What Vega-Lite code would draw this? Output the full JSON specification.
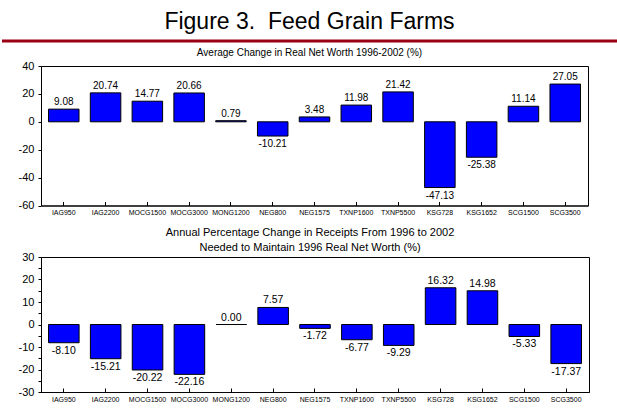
{
  "$schema": "https://vega.github.io/schema/vega-lite/v6.json",
  "padding": {"top": 10, "left": 0, "right": 0, "bottom": 0},
  "background": "white",
  "spacing": 4,
  "config": {
    "font": "Liberation Sans",
    "view": {"stroke": "black", "strokeWidth": 1},
    "title": {"fontWeight": "normal", "color": "black", "font": "Liberation Sans"},
    "axis": {"domainColor": "black", "tickColor": "black", "labelColor": "black", "grid": false, "title": null, "labelFont": "Liberation Sans", "labelOverlap": false, "labelBound": false},
    "axisY": {"labelOverlap": false, "labelFlush": false},
    "axisQuantitative": {"labelOverlap": false},
    "locale": {"number": {"decimal": ".", "thousands": ",", "grouping": [3], "currency": ["$", ""], "minus": "-"}}
  },
  "datasets": {
    "farms": [
      {"farm": "IAG950", "nw": 9.08, "rc": -8.10},
      {"farm": "IAG2200", "nw": 20.74, "rc": -15.21},
      {"farm": "MOCG1500", "nw": 14.77, "rc": -20.22},
      {"farm": "MOCG3000", "nw": 20.66, "rc": -22.16},
      {"farm": "MONG1200", "nw": 0.79, "rc": 0.00},
      {"farm": "NEG800", "nw": -10.21, "rc": 7.57},
      {"farm": "NEG1575", "nw": 3.48, "rc": -1.72},
      {"farm": "TXNP1600", "nw": 11.98, "rc": -6.77},
      {"farm": "TXNP5500", "nw": 21.42, "rc": -9.29},
      {"farm": "KSG728", "nw": -47.13, "rc": 16.32},
      {"farm": "KSG1652", "nw": -25.38, "rc": 14.98},
      {"farm": "SCG1500", "nw": 11.14, "rc": -5.33},
      {"farm": "SCG3500", "nw": 27.05, "rc": -17.37}
    ],
    "header": [{"from": 0, "to": 617, "level": 0}]
  },
  "vconcat": [
    {
      "data": {"name": "header"},
      "width": 547,
      "height": 1,
      "view": {"stroke": null},
      "title": {"text": "Figure 3.\u00a0 Feed Grain Farms", "fontSize": 23, "offset": 6, "dx": -5},
      "mark": {"type": "rule", "color": "#990014", "strokeWidth": 3},
      "encoding": {
        "x": {"field": "from", "type": "quantitative", "scale": {"domain": [39, 586], "nice": false, "zero": false}, "axis": null},
        "x2": {"field": "to"},
        "y": {"field": "level", "type": "quantitative", "scale": {"domain": [0, 1]}, "axis": null}
      }
    },
    {
      "data": {"name": "farms"},
      "width": 547,
      "height": 139.5,
      "title": {"text": "Average Change in Real Net Worth 1996-2002 (%)", "fontSize": 10, "offset": 2.5, "dx": -5},
      "encoding": {
        "x": {"field": "farm", "type": "nominal", "sort": null,
              "scale": {"paddingInner": 0.27, "paddingOuter": 0.18},
              "axis": {"labelAngle": 0, "labelFontSize": 7, "tickSize": -4, "labelPadding": 7, "minExtent": 16, "maxExtent": 16}},
        "y": {"field": "nw", "type": "quantitative", "scale": {"domain": [-60, 40], "nice": false},
              "axis": {"values": [-60, -40, -20, 0, 20, 40], "labelOverlap": false, "tickSize": 3, "labelFontSize": 11, "labelPadding": 4, "minExtent": 39, "maxExtent": 39}}
      },
      "layer": [
        {"mark": {"type": "bar", "color": "#0000FF", "stroke": "black", "strokeWidth": 1}},
        {"mark": {"type": "rule", "color": "black"}, "encoding": {"y": {"datum": 0}}},
        {
          "transform": [{"filter": "datum.nw >= 0"}],
          "mark": {"type": "text", "baseline": "bottom", "dy": -2, "fontSize": 10, "color": "black"},
          "encoding": {"text": {"field": "nw", "type": "quantitative", "format": ".2f"}}
        },
        {
          "transform": [{"filter": "datum.nw < 0"}],
          "mark": {"type": "text", "baseline": "top", "dy": 3, "fontSize": 10, "color": "black"},
          "encoding": {"text": {"field": "nw", "type": "quantitative", "format": ".2f"}}
        }
      ]
    },
    {
      "data": {"name": "farms"},
      "width": 548,
      "height": 135,
      "title": {"text": ["Annual Percentage Change in Receipts From 1996 to 2002", "Needed to Maintain 1996 Real Net Worth (%)"], "fontSize": 11, "lineHeight": 15, "offset": -2, "dx": -5},
      "encoding": {
        "x": {"field": "farm", "type": "nominal", "sort": null,
              "scale": {"paddingInner": 0.27, "paddingOuter": 0.18},
              "axis": {"labelAngle": 0, "labelFontSize": 7, "tickSize": -4, "labelPadding": 7}},
        "y": {"field": "rc", "type": "quantitative", "scale": {"domain": [-30, 30], "nice": false},
              "axis": {"values": [-30, -25, -20, -15, -10, -5, 0, 5, 10, 15, 20, 25, 30], "labelOverlap": false, "labelExpr": "datum.value % 10 == 0 ? datum.label : ''", "tickSize": 3, "labelFontSize": 11, "labelPadding": 4, "minExtent": 37, "maxExtent": 37}}
      },
      "layer": [
        {"mark": {"type": "bar", "color": "#0000FF", "stroke": "black", "strokeWidth": 1}},
        {"mark": {"type": "rule", "color": "black"}, "encoding": {"y": {"datum": 0}}},
        {
          "transform": [{"filter": "datum.rc >= 0"}],
          "mark": {"type": "text", "baseline": "bottom", "dy": -2, "fontSize": 10.5, "color": "black"},
          "encoding": {"text": {"field": "rc", "type": "quantitative", "format": ".2f"}}
        },
        {
          "transform": [{"filter": "datum.rc < 0"}],
          "mark": {"type": "text", "baseline": "top", "dy": 3, "fontSize": 10.5, "color": "black"},
          "encoding": {"text": {"field": "rc", "type": "quantitative", "format": ".2f"}}
        }
      ]
    }
  ]
}
